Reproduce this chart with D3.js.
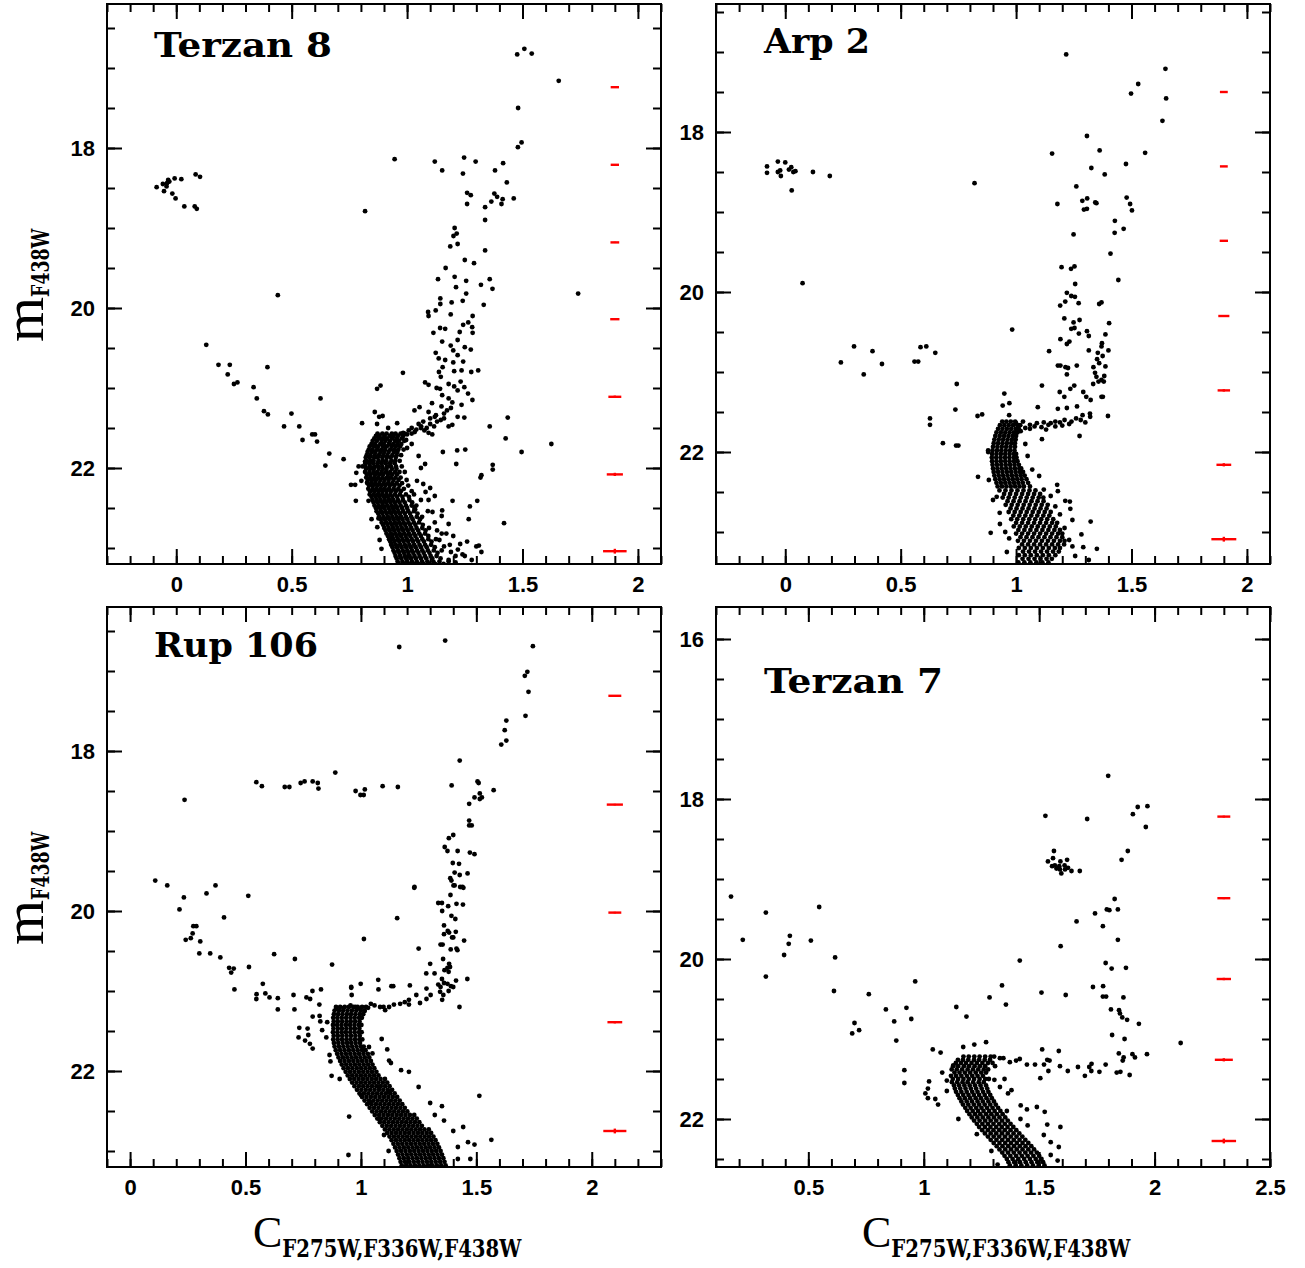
<!DOCTYPE html>
<html lang="en">
<head>
<meta charset="UTF-8">
<title>CMDs of four clusters</title>
<style>
body { margin: 0; background: #fff; }
</style>
</head>
<body>
<script src="https://cdnjs.cloudflare.com/ajax/libs/d3/7.8.5/d3.min.js"></script>
<script>
// ---- data: [C index, m_F438W] ----
var clusterNames = ["Terzan 8", "Arp 2", "Rup 106", "Terzan 7"];

var t8Stars = [[1.477,16.83],[1.508,16.76],[1.54,16.82],[1.657,17.16],[1.481,17.5],[1.496,17.93],[1.48,17.99],
[.946,18.14],[1.12,18.17],[1.152,18.28],[1.247,18.12],[1.297,18.17],[1.242,18.32],[1.416,18.19],[1.381,18.28],[1.432,18.43],[1.26,18.56],[1.276,18.59],[1.378,18.57],[1.39,18.61],[1.414,18.64],[1.462,18.63],[1.365,18.67],[1.26,18.7],[1.409,18.7],[1.338,18.74],[1.338,18.9],[.818,18.79],
[-.085,18.49],[-.058,18.45],[-.042,18.48],[-.035,18.4],[-.007,18.38],[.022,18.39],[-.053,18.54],[-.017,18.57],[-.003,18.63],[.035,18.73],[.08,18.73],[.089,18.76],[.084,18.33],[.103,18.36],[-.04,18.44],[-.03,18.42],
[1.206,19.0],[1.215,19.07],[1.201,19.1],[1.219,19.2],[1.187,19.23],[1.338,19.28],[1.25,19.4],[1.29,19.44],[1.167,19.5],[1.134,19.64],[1.206,19.61],[1.256,19.66],[1.32,19.71],[1.358,19.64],[1.212,19.74],[1.37,19.76],
[1.256,19.82],[1.144,19.88],[1.144,19.95],[1.193,19.93],[1.241,19.91],[1.332,19.96],[1.124,20.03],[1.091,20.05],[1.093,20.1],[1.189,20.08],[1.284,20.1],[1.265,20.18],[1.243,20.21],[1.143,20.25],[1.165,20.26],[1.114,20.31],[1.228,20.3],[1.282,20.24],[1.284,20.31],[1.152,20.42],[1.189,20.47],[1.219,20.4],[1.25,20.49],[1.276,20.52],[1.124,20.56],[1.2,20.53],[1.219,20.59],[1.137,20.63],[1.165,20.65],[1.2,20.68],[1.243,20.67],[1.154,20.74],[1.138,20.8],[1.204,20.79],[1.236,20.78],[1.278,20.8],[1.308,20.78],[1.146,20.86],[1.078,20.93],[1.093,20.96],[1.128,21.0],[1.143,21.01],[1.18,20.95],[1.204,20.98],[1.232,20.92],[1.248,20.99],[1.219,21.03],[1.264,21.07],[1.152,21.09],[1.18,21.13],[1.283,21.15],[1.196,21.18],[1.236,21.21],[1.108,21.19],[1.054,21.24],[1.032,21.28],[1.149,21.23],[1.173,21.28],[1.19,21.25],[1.093,21.3],[1.125,21.34],[1.219,21.36],[1.248,21.37],[1.146,21.4],[1.18,21.48],[1.196,21.46],[1.117,21.48],[1.061,21.48],[1.075,21.53],[1.093,21.56],[1.109,21.58],[1.033,21.55],[1.007,21.53],[.983,21.56],
[1.02,21.5],[1.05,21.45],[1.07,21.42],[1.1,21.38],[1.12,21.36],[1.16,21.32],[1.1,21.45],[1.13,21.42],[1.16,21.38],[1.04,21.52],[1.06,21.5],[1.0,21.58],[1.02,21.57],[1.085,21.5],
[.44,19.84],[1.741,19.82],[.13,20.46],[.183,20.71],[.232,20.71],[.223,20.83],[.25,20.95],[.265,20.93],[.395,20.74],[.335,20.99],[.349,21.13],[.38,21.29],[.397,21.33],[.499,21.32],[.467,21.48],[.533,21.48],[.547,21.65],[.589,21.58],[.601,21.58],[.61,21.67],[.625,21.13],[.663,21.82],[.646,21.97],[.725,21.89],[.805,21.44],[.86,21.3],[.879,21.36],[.894,21.35],[.87,21.01],[.885,20.97],[.982,20.81],[.918,21.5],[.957,21.44],[.87,21.45],[.996,21.65],
[1.358,21.48],[1.436,21.37],[1.427,21.63],[1.496,21.8],[1.625,21.7],[1.155,21.8],[1.217,21.78],[1.252,21.77],[1.078,21.95],[1.213,21.95],[1.371,21.96],[1.371,22.02],[1.322,22.09],[1.318,22.12],[1.304,22.41],[1.272,22.48],[1.267,22.64],[1.42,22.69],[1.197,22.41],[1.152,22.53],[1.311,22.97],[1.322,23.05],[1.043,22.16],[1.093,22.4],[1.035,22.52],
[.846,22.64],[.876,22.63],[.871,22.74],[.778,22.41],[.833,22.41],[.757,22.21],[.775,22.21],[.78,22.06],[.79,21.98],[.807,21.98],[.818,21.92],[.802,22.16],[.827,22.18],[.889,23.01],[.881,22.9],[.928,22.88],[.933,22.95],
[1.05,21.85],[1.02,21.7],[1.06,22.0],[1.1,22.25],[1.12,22.35],[1.15,22.6],[1.18,22.7],[1.2,22.85],[1.23,22.95],[1.25,23.1],[1.18,23.15],[1.14,22.9],[1.07,22.2],[1.0,21.75],[1.26,22.92],[1.24,23.08],[1.28,23.15],[1.3,22.98],
[1.11,22.55],[1.13,22.78],[1.16,22.98],[1.19,23.05],[1.21,23.18],[1.08,22.3],[1.17,22.82],[1.22,23.02]];

var t8Rows = [
[21.57,.872,.893,.911,.934,.95,.972,.99],[21.6,.865,.881,.902,.925,.941,.96,.983],[21.63,.858,.877,.895,.913,.936,.955,.977],
[21.66,.851,.869,.89,.907,.926,.948,.964,.988],[21.7,.846,.862,.884,.899,.921,.94,.958,.975],[21.73,.838,.857,.874,.896,.912,.933,.951,.97],
[21.77,.834,.85,.87,.888,.905,.927,.944,.962,.985],[21.8,.829,.847,.863,.884,.901,.92,.942,.958],[21.84,.825,.841,.86,.878,.897,.915,.936,.955,.974],
[21.87,.821,.838,.857,.873,.893,.912,.929,.951],[21.91,.823,.84,.855,.876,.894,.91,.932,.949,.968],[21.94,.819,.836,.853,.872,.889,.907,.926,.946],
[21.98,.82,.839,.858,.874,.892,.913,.93,.952,.977],[22.01,.822,.84,.856,.877,.895,.911,.934,.954],[22.05,.818,.837,.855,.871,.89,.909,.927,.948,.967,.99],
[22.08,.826,.842,.861,.879,.896,.917,.935,.956],[22.12,.823,.84,.858,.875,.894,.913,.93,.95,.972],[22.15,.83,.848,.865,.884,.902,.92,.941,.963,.998],
[22.19,.828,.845,.862,.88,.899,.918,.936,.955,.978],[22.22,.835,.852,.87,.888,.906,.925,.945,.967,1.005],[22.26,.832,.851,.868,.886,.903,.922,.942,.962,.986],
[22.29,.84,.858,.876,.893,.911,.93,.951,.973,1.02],[22.33,.838,.856,.874,.892,.91,.928,.948,.969,.995,1.03],[22.36,.846,.864,.881,.9,.917,.936,.957,.98,1.008],
[22.4,.85,.868,.885,.903,.922,.94,.96,.982,1.01,1.06],[22.43,.855,.873,.892,.909,.928,.947,.967,.99,1.022],[22.47,.859,.877,.895,.914,.933,.951,.972,.995,1.02,1.04],
[22.5,.865,.883,.901,.92,.938,.957,.978,1.0,1.032],[22.54,.868,.887,.906,.925,.943,.962,.983,1.005,1.03,1.09],[22.57,.875,.893,.912,.931,.95,.969,.99,1.013,1.045],
[22.61,.879,.898,.917,.936,.955,.974,.995,1.018,1.042,1.065],[22.64,.886,.904,.923,.942,.961,.98,1.001,1.024,1.056],[22.68,.89,.909,.928,.947,.966,.985,1.006,1.029,1.052,1.12],
[22.71,.896,.915,.934,.953,.972,.992,1.013,1.036,1.068],[22.75,.901,.92,.939,.958,.977,.997,1.018,1.041,1.066,1.095],[22.78,.907,.925,.944,.963,.983,1.003,1.024,1.048,1.08],
[22.82,.911,.93,.949,.968,.988,1.008,1.03,1.053,1.078,1.15],[22.85,.917,.936,.955,.974,.994,1.014,1.036,1.06,1.092],[22.89,.922,.941,.96,.98,.999,1.02,1.042,1.066,1.092,1.125],
[22.92,.927,.946,.966,.985,1.005,1.026,1.048,1.073,1.106],[22.96,.931,.951,.97,.99,1.01,1.031,1.054,1.078,1.104,1.185],[22.99,.937,.956,.976,.996,1.016,1.037,1.06,1.085,1.12],
[23.03,.941,.961,.981,1.001,1.021,1.043,1.066,1.09,1.116,1.15],[23.06,.946,.966,.986,1.006,1.027,1.049,1.072,1.097,1.132],[23.1,.95,.97,.99,1.011,1.032,1.054,1.077,1.102,1.128,1.21],
[23.13,.955,.975,.996,1.017,1.038,1.06,1.083,1.109,1.145],[23.17,.959,.98,1.0,1.021,1.042,1.065,1.088,1.114,1.14,1.18],[23.2,.964,.985,1.006,1.027,1.048,1.071,1.095,1.121,1.158]];

var arp2Stars = [[1.217,17.03],[1.647,17.21],[1.529,17.4],[1.498,17.52],[1.65,17.58],[1.634,17.86],[1.307,18.05],[1.362,18.23],[1.156,18.27],[1.559,18.26],[1.476,18.4],[1.326,18.45],[1.384,18.53],[.82,18.64],[1.261,18.68],[1.179,18.9],[1.287,18.86],[1.308,18.83],[1.294,18.97],[1.307,18.96],[1.343,18.88],[1.348,18.89],[1.479,18.82],[1.494,18.9],[1.502,18.98],[1.428,19.11],[1.466,19.21],[1.427,19.26],[1.249,19.28],[1.409,19.52],[1.197,19.69],[1.238,19.71],[1.253,19.68],[1.256,19.9],[1.443,19.85],[.075,19.89],
[-.079,18.43],[-.079,18.51],[-.032,18.37],[0,18.38],[-.032,18.5],[-.019,18.55],[.016,18.47],[.026,18.44],[.035,18.5],[.044,18.49],[.028,18.73],[.12,18.5],[.193,18.55],[-.022,18.48],
[1.22,20.01],[1.239,20.05],[1.255,20.06],[1.213,20.12],[1.191,20.17],[1.271,20.14],[1.37,20.13],[1.36,20.15],[1.209,20.33],[1.275,20.35],[1.249,20.38],[1.403,20.39],[.983,20.47],[1.239,20.46],[1.253,20.45],[1.307,20.49],[1.272,20.52],[1.315,20.55],[1.387,20.53],[1.192,20.59],[1.22,20.65],[1.231,20.62],[1.372,20.64],[1.37,20.68],[1.143,20.74],[1.315,20.73],[1.354,20.76],[1.4,20.73],[1.351,20.84],[1.375,20.8],[1.36,20.89],[1.181,20.92],[1.192,20.92],[1.214,20.94],[1.225,20.95],[1.263,20.92],[1.335,20.94],[1.387,20.93],[1.22,21.03],[1.342,21.01],[1.348,21.06],[1.382,21.05],[1.37,21.1],[1.357,21.12],[1.38,21.12],[1.112,21.17],[1.235,21.21],[1.252,21.17],[1.334,21.15],[1.189,21.25],[1.209,21.31],[1.291,21.25],[1.304,21.31],[1.323,21.35],[1.37,21.31],[1.376,21.31],[.949,21.27],[.942,21.42],[.971,21.39],[1.094,21.44],[1.181,21.46],[1.22,21.45],[1.264,21.43],[.97,21.54],[1.288,21.54],[1.32,21.52],[1.321,21.56],[1.398,21.55],
[.737,21.47],[.743,21.15],[.833,21.55],[.853,21.53],[.627,21.58],[.627,21.66],[.683,21.89],[.74,21.92],[.75,21.92],[.298,20.68],[.378,20.74],[.241,20.88],[.419,20.9],[.34,21.03],[.56,20.87],[.576,20.87],[.586,20.69],[.611,20.68],[.65,20.76],
[1.112,21.84],[1.275,21.8],[.879,21.98],[.879,22.0],[.835,22.31],[.882,22.35],[.916,22.56],[.929,22.76],[.89,23.01],[.953,23.0],[.97,23.08],[1.178,22.41],[1.181,22.49],[1.213,22.61],[1.233,22.62],[1.235,22.71],[1.244,22.85],[1.323,22.87],[1.283,23.03],[1.291,23.19],[1.35,23.21],[1.244,23.18],[1.256,23.3],[1.315,23.35],
[1.0,21.64],[1.03,21.62],[1.06,21.66],[1.09,21.64],[1.12,21.63],[1.15,21.64],[1.17,21.62],[1.19,21.63],[1.21,21.6],[1.24,21.62],[1.26,21.58],[1.04,21.7],[1.08,21.68],[1.11,21.69],[1.14,21.66],[1.02,21.74],[1.06,21.71],[1.2,21.67],[1.23,21.65],[1.17,21.68],[1.13,21.72],[1.28,21.6],[1.3,21.63],
[1.04,21.9],[1.05,22.05],[1.07,22.22],[1.1,22.3],[1.12,22.47],[1.15,22.55],[1.17,22.68],[1.19,22.78],[1.21,22.95],[1.23,23.1],[.9,22.6],[.93,22.9],[.96,23.25]];

var arp2Rows = [
[21.62,.94,.958,.977,.996],[21.665,.93,.949,.968,.987,1.006,1.018],[21.71,.922,.941,.96,.979,.998,1.012],[21.755,.915,.934,.953,.972,.991,1.006],
[21.8,.91,.929,.948,.967,.986,1.0],[21.845,.906,.925,.944,.963,.982,.998],[21.89,.903,.922,.941,.96,.979,.995],[21.935,.9,.919,.938,.957,.976,.995],
[21.98,.898,.917,.936,.955,.974,.993],[22.025,.896,.915,.934,.953,.972,.991,1.0],[22.07,.895,.914,.933,.952,.971,.99,1.002],[22.115,.896,.915,.934,.953,.972,.991,1.006],
[22.16,.898,.917,.936,.955,.974,.993,1.012],[22.205,.9,.919,.938,.957,.976,.995,1.014,1.022],[22.25,.903,.922,.941,.96,.979,.998,1.017,1.03],[22.295,.906,.925,.944,.963,.982,1.001,1.02,1.037],
[22.34,.91,.929,.948,.967,.986,1.005,1.024,1.045],[22.385,.915,.934,.953,.972,.991,1.01,1.029,1.052],[22.43,.92,.939,.958,.977,.996,1.015,1.034,1.06],
[22.48,.928,.954,.98,1.006,1.032,1.058,1.084],[22.525,.948,.974,1.0,1.026,1.052,1.078,1.104],[22.57,.942,.968,.994,1.02,1.046,1.072,1.098,1.118],
[22.615,.963,.989,1.015,1.041,1.067,1.093,1.119],[22.66,.955,.981,1.007,1.033,1.059,1.085,1.111,1.137],[22.705,.976,1.002,1.028,1.054,1.08,1.106,1.132],
[22.75,.968,.994,1.02,1.046,1.072,1.098,1.124,1.15],[22.795,.988,1.014,1.04,1.066,1.092,1.118,1.144],[22.84,.979,1.005,1.031,1.057,1.083,1.109,1.135,1.161],
[22.885,1.0,1.026,1.052,1.078,1.104,1.13,1.156,1.178],[22.93,.99,1.016,1.042,1.068,1.094,1.12,1.146,1.172],[22.975,1.01,1.036,1.062,1.088,1.114,1.14,1.166,1.19],
[23.02,1.0,1.026,1.052,1.078,1.104,1.13,1.156,1.182,1.2],[23.065,1.019,1.045,1.071,1.097,1.123,1.149,1.175,1.2],[23.11,1.008,1.034,1.06,1.086,1.112,1.138,1.164,1.19,1.21],
[23.155,1.026,1.052,1.078,1.104,1.13,1.156,1.182,1.208],[23.2,1.012,1.038,1.064,1.09,1.116,1.142,1.168,1.19],[23.245,1.03,1.056,1.082,1.108,1.134,1.16,1.185],
[23.29,1.012,1.038,1.064,1.09,1.116,1.142,1.17],[23.335,1.028,1.054,1.08,1.106,1.132,1.155],[23.38,1.01,1.036,1.062,1.088,1.114,1.14]];

var rup106Stars = [[1.166,16.7],[1.365,16.62],[1.745,16.69],[1.71,17.06],[1.721,17.01],[1.726,17.26],[1.713,17.56],[1.63,17.62],[1.623,17.74],[1.63,17.87],[1.608,17.92],[1.428,18.12],[1.393,18.43],[1.505,18.38],[1.51,18.4],[1.575,18.49],[1.515,18.53],[1.524,18.58],[1.515,18.6],[1.492,18.58],[1.469,18.66],[1.469,18.87],[1.469,18.93],[1.48,18.93],[1.381,19.09],[1.4,19.05],[1.363,19.2],[1.375,19.25],[1.419,19.25],[1.472,19.27],[1.492,19.29],[1.398,19.4],[1.425,19.41],[1.406,19.52],[1.428,19.55],[1.462,19.53],[1.387,19.59],[1.401,19.68],[1.43,19.7],[1.44,19.7],[1.232,19.7],[.236,18.61],
[.547,18.39],[.571,18.44],[.67,18.45],[.69,18.45],[.739,18.4],[.756,18.38],[.791,18.38],[.813,18.4],[.816,18.47],[.889,18.27],[.977,18.5],[.998,18.55],[1.012,18.55],[1.017,18.48],[1.094,18.44],[1.16,18.45],
[.109,19.62],[.161,19.68],[.37,19.68],[.233,19.83],[.331,19.78],[.512,19.81],[.214,19.98],[.407,20.08],[.274,20.19],[.287,20.19],[.271,20.28],[.241,20.36],[.263,20.34],[.304,20.38],[.3,20.53],[.347,20.53],[.391,20.58],[.429,20.71],[.449,20.72],[.438,20.77],[.515,20.7],[.624,20.54],[.714,20.6],[.875,20.67],[.452,20.98],[.575,20.91],[.548,21.04],[.547,21.1],[.586,21.03],[.604,21.08],[.64,21.09],[.64,21.23],[.708,21.05],[.712,21.23],[.764,21.08],[.78,21.1],[.79,21.0],[.827,20.98],[.82,21.17],[.791,21.32],[.821,21.31],[.824,21.38],[.854,21.39],[.733,21.46],[.769,21.47],[.772,21.55],[.73,21.58],[.758,21.62],[.779,21.66],[.791,21.72],[.832,21.49],[.85,21.58],[.864,21.8],[.868,21.88],[.873,22.06],[.908,22.1],
[.958,20.95],[.958,20.96],[.96,21.05],[.999,20.91],[1.013,20.35],[1.075,20.86],[1.076,20.98],[1.132,20.94],[1.14,20.94],[1.157,20.09],[1.231,19.71],[1.212,20.93],[1.25,20.47],[1.284,20.97],[1.3,20.66],[1.283,20.78],[1.319,20.78],
[1.335,19.9],[1.351,19.9],[1.378,19.94],[1.388,19.8],[1.392,19.62],[1.406,19.68],[1.444,19.71],[1.414,19.91],[1.442,19.92],[1.352,20.0],[1.392,20.06],[1.409,20.1],[1.36,20.18],[1.376,20.25],[1.382,20.27],[1.395,20.33],[1.411,20.26],[1.4,20.33],[1.36,20.29],[1.354,20.42],[1.345,20.42],[1.447,20.37],[1.389,20.48],[1.414,20.47],[1.418,20.49],[1.356,20.6],[1.382,20.66],[1.375,20.71],[1.386,20.7],[1.362,20.74],[1.38,20.76],[1.412,20.87],[1.461,20.85],[1.351,20.85],[1.335,20.92],[1.345,20.95],[1.36,20.9],[1.375,20.91],[1.39,20.94],[1.343,21.01],[1.357,21.05],[1.352,21.11],[1.38,21.0],[1.4,20.95],[1.427,21.2],
[1.302,21.05],[1.284,21.1],[1.256,21.15],[1.24,21.05],[1.208,21.11],[1.208,21.17],[1.19,21.14],[1.17,21.16],[1.143,21.17],[1.122,21.2],[1.098,21.2],[1.105,21.24],[1.083,21.2],[1.059,21.18],[1.043,21.16],[1.031,21.21],[1.016,21.25],[.996,21.22],[.976,21.2],[.955,21.18],[.925,21.21],[.894,21.22],
[1.513,22.31],[1.565,22.86],[1.492,22.92],[1.464,22.89],[1.443,22.7],[1.351,22.44],[1.36,22.62],[1.474,23.1],[.949,22.57],[.946,23.05],[1.208,22.01],[1.174,21.99],[1.114,21.73],[1.09,21.6],[1.035,21.7],[1.122,21.87],[1.13,21.9],[1.05,21.78],[1.08,22.2],[1.12,22.25],[1.25,22.2],[1.3,22.4],[1.32,22.55],[1.4,22.75],[1.42,22.95],[1.42,23.1],[1.08,22.6],[1.04,22.4],[1.0,22.3],[1.1,22.8],[1.12,23.0]];

var rup106Rows = [
[21.2,.892,.91,.93,.948,.967,.986,1.005,1.022],[21.245,.886,.905,.923,.942,.961,.98,.999,1.015],[21.29,.883,.901,.92,.939,.957,.976,.995,1.01],
[21.335,.88,.898,.917,.936,.955,.973,.992,1.004],[21.38,.882,.9,.919,.938,.956,.975,.994],[21.425,.879,.897,.916,.935,.953,.972,.991,1.002],
[21.47,.881,.9,.918,.937,.956,.974,.993],[21.515,.879,.898,.917,.935,.954,.973,.992,1.003],[21.56,.882,.9,.919,.938,.957,.976,.995],
[21.605,.88,.899,.918,.937,.955,.974,.993,1.006],[21.65,.883,.902,.921,.94,.958,.977,.996],[21.695,.886,.905,.924,.943,.962,.981,1.0,1.012],
[21.74,.891,.91,.929,.948,.967,.986,1.005,1.02],[21.785,.897,.916,.935,.954,.973,.992,1.011,1.03],[21.83,.903,.922,.941,.96,.979,.998,1.017,1.036],
[21.875,.91,.929,.948,.967,.986,1.005,1.024,1.043],[21.92,.917,.936,.955,.974,.993,1.012,1.031,1.05],[21.965,.925,.944,.963,.982,1.001,1.02,1.039,1.058],
[22.01,.934,.953,.972,.991,1.01,1.029,1.048,1.067],[22.055,.943,.962,.981,1.0,1.019,1.038,1.057,1.076],[22.1,.952,.971,.99,1.009,1.028,1.047,1.066,1.085,1.104],
[22.145,.962,.981,1.0,1.019,1.038,1.057,1.076,1.095,1.114],[22.19,.972,.991,1.01,1.029,1.048,1.067,1.086,1.105,1.124],[22.235,.983,1.002,1.021,1.04,1.059,1.078,1.097,1.116,1.135],
[22.28,.994,1.013,1.032,1.051,1.07,1.089,1.108,1.127,1.146],[22.325,1.005,1.024,1.043,1.062,1.081,1.1,1.119,1.138,1.157],[22.37,1.016,1.035,1.054,1.073,1.092,1.111,1.13,1.149,1.168],
[22.415,1.027,1.046,1.065,1.084,1.103,1.122,1.141,1.16,1.179],[22.46,1.038,1.057,1.076,1.095,1.114,1.133,1.152,1.171,1.19],[22.505,1.049,1.068,1.087,1.106,1.125,1.144,1.163,1.182,1.201],
[22.55,1.06,1.079,1.098,1.117,1.136,1.155,1.174,1.193,1.212,1.231],[22.595,1.071,1.09,1.109,1.128,1.147,1.166,1.185,1.204,1.223,1.242],[22.64,1.082,1.101,1.12,1.139,1.158,1.177,1.196,1.215,1.234,1.253],
[22.685,1.093,1.112,1.131,1.15,1.169,1.188,1.207,1.226,1.245,1.264],[22.73,1.104,1.123,1.142,1.161,1.18,1.199,1.218,1.237,1.256,1.275,1.294],[22.775,1.114,1.133,1.152,1.171,1.19,1.209,1.228,1.247,1.266,1.285,1.304],
[22.82,1.124,1.143,1.162,1.181,1.2,1.219,1.238,1.257,1.276,1.295,1.314],[22.865,1.133,1.152,1.171,1.19,1.209,1.228,1.247,1.266,1.285,1.304,1.323],[22.91,1.141,1.16,1.179,1.198,1.217,1.236,1.255,1.274,1.293,1.312,1.331],
[22.955,1.148,1.167,1.186,1.205,1.224,1.243,1.262,1.281,1.3,1.319,1.338],[23.0,1.155,1.174,1.193,1.212,1.231,1.25,1.269,1.288,1.307,1.326,1.345],[23.045,1.161,1.18,1.199,1.218,1.237,1.256,1.275,1.294,1.313,1.332,1.351],
[23.09,1.167,1.186,1.205,1.224,1.243,1.262,1.281,1.3,1.319,1.338,1.357],[23.135,1.172,1.191,1.21,1.229,1.248,1.267,1.286,1.305,1.324,1.343,1.362],[23.18,1.177,1.196,1.215,1.234,1.253,1.272,1.291,1.31,1.329,1.348,1.367],
[23.22,1.182,1.201,1.22,1.239,1.258,1.277,1.296,1.315,1.334,1.353]];

var ter7Stars = [[1.799,17.71],[1.527,18.21],[1.708,18.25],[1.906,18.19],[1.927,18.1],[1.969,18.09],[1.962,18.35],[1.884,18.65],[1.857,18.76],
[1.564,18.65],[1.56,18.74],[1.538,18.78],[1.592,18.78],[1.621,18.76],[1.568,18.83],[1.587,18.84],[1.61,18.83],[1.625,18.86],[1.596,18.93],[1.64,18.9],[1.676,18.9],[1.575,18.87],[1.556,18.84],[1.612,18.88],[1.59,18.88],
[.165,19.22],[.216,19.76],[.316,19.42],[.316,20.22],[.395,19.95],[.415,19.81],[.42,19.71],[.511,19.77],[.547,19.35],[.616,19.98],[.611,20.4],[.762,20.44],[.963,20.28],[.836,20.63],[.925,20.61],[.872,20.78],[.946,20.75],[.7,20.8],[.69,20.93],[.72,20.89],[.881,21.02],[.916,21.39],[.916,21.55],[1.023,21.53],[1.018,21.62],[1.007,21.68],[1.018,21.74],[1.062,21.82],[1.039,21.13],[1.073,21.17],
[1.141,20.6],[1.185,20.72],[1.285,20.48],[1.339,20.33],[1.356,20.57],[1.416,20.02],[1.51,20.42],[1.615,20.45],[1.593,19.84],[1.662,19.53],[1.742,19.43],[1.776,19.59],[1.793,19.38],[1.804,19.39],[1.827,19.25],[1.841,19.38],[1.841,19.76],[1.788,20.05],[1.814,20.12],[1.876,20.11],[1.733,20.35],[1.777,20.34],[1.776,20.47],[1.79,20.47],[1.865,20.48],[1.811,20.63],[1.846,20.64],[1.85,20.68],[1.86,20.73],[1.881,20.76],[1.932,20.81],[1.816,20.95],[1.87,21.0],[2.113,21.05],
[1.845,21.18],[1.904,21.19],[1.915,21.23],[1.967,21.19],[1.866,21.23],[1.862,21.27],[1.788,21.32],[1.836,21.42],[1.852,21.41],[1.892,21.45],[1.727,21.31],[1.717,21.35],[1.726,21.4],[1.761,21.41],[1.698,21.46],[1.668,21.35],[1.624,21.4],[1.59,21.34],[1.585,21.15],[1.513,21.13],[1.505,21.49],[1.54,21.4],[1.521,21.32],[1.535,21.26],[1.545,21.27],[1.482,21.32],[1.447,21.32],[1.416,21.25],[1.4,21.27],[1.373,21.29],[1.345,21.24],[1.33,21.24],[1.309,21.34],[1.306,21.51],[1.27,21.04],[1.219,21.07],[1.171,21.1],[1.128,21.33],[1.1,21.52],
[1.49,21.85],[1.524,21.91],[1.447,21.88],[1.535,22.07],[1.592,22.1],[1.585,22.35],[1.55,22.29],[1.38,21.64],[1.365,21.68],[1.419,22.0],[1.15,22.0],[1.23,22.19],[1.293,22.4],[1.32,22.57],[1.58,22.52],[1.1,21.65],[1.08,21.42],[1.36,21.9],[1.45,22.08],[1.52,22.2],[1.55,22.45],[1.33,21.6],[1.35,21.5],[1.42,21.83],[1.05,21.75]];

var ter7Rows = [
[21.22,1.172,1.195,1.219,1.242,1.266,1.29,1.305],[21.26,1.148,1.17,1.193,1.218,1.24,1.264,1.287],[21.3,1.139,1.161,1.183,1.207,1.23,1.254,1.278,1.298],
[21.34,1.127,1.149,1.174,1.196,1.22,1.243,1.266],[21.38,1.121,1.143,1.166,1.19,1.213,1.236,1.26,1.279],[21.42,1.133,1.155,1.178,1.201,1.225,1.249,1.27],
[21.46,1.118,1.14,1.163,1.187,1.21,1.233,1.256],[21.5,1.126,1.149,1.172,1.195,1.218,1.242,1.266,1.282],[21.54,1.122,1.145,1.168,1.19,1.214,1.238,1.26],
[21.58,1.131,1.153,1.176,1.199,1.222,1.246,1.27],[21.62,1.135,1.158,1.181,1.204,1.227,1.251,1.275],[21.66,1.14,1.163,1.186,1.21,1.233,1.257,1.28],
[21.7,1.148,1.171,1.194,1.217,1.24,1.264,1.288],[21.74,1.155,1.178,1.201,1.225,1.248,1.272,1.295],[21.78,1.163,1.186,1.209,1.233,1.256,1.28,1.304],
[21.82,1.17,1.193,1.217,1.24,1.264,1.288,1.312],[21.86,1.18,1.203,1.227,1.25,1.274,1.298,1.322],[21.9,1.188,1.212,1.235,1.259,1.283,1.307,1.332],
[21.94,1.198,1.222,1.245,1.27,1.293,1.317,1.342],[21.98,1.208,1.232,1.256,1.28,1.304,1.328,1.353],[22.02,1.218,1.242,1.266,1.29,1.314,1.339,1.364],
[22.06,1.23,1.254,1.278,1.302,1.327,1.351,1.376],[22.1,1.24,1.265,1.289,1.314,1.338,1.363,1.388],[22.14,1.253,1.278,1.302,1.327,1.351,1.376,1.401],
[22.18,1.265,1.29,1.314,1.339,1.364,1.389,1.414],[22.22,1.278,1.303,1.327,1.352,1.377,1.402,1.427],[22.26,1.29,1.315,1.34,1.365,1.39,1.415,1.44],
[22.3,1.303,1.328,1.353,1.378,1.403,1.428,1.453],[22.34,1.316,1.341,1.366,1.391,1.416,1.441,1.466],[22.38,1.328,1.353,1.378,1.403,1.428,1.453,1.478],
[22.42,1.34,1.365,1.39,1.415,1.44,1.465,1.49],[22.46,1.35,1.375,1.4,1.425,1.45,1.475,1.5],[22.5,1.36,1.385,1.41,1.435,1.46,1.485,1.51],
[22.54,1.367,1.392,1.417,1.442,1.467,1.492,1.517],[22.58,1.373,1.398,1.423,1.448,1.473,1.498,1.523]];

// typical errors (colour position, magnitudes, half-widths in colour and magnitude)
var errColor = [1.9, 1.9, 2.1, 2.3];
var t8ErrMag = [17.24,18.21,19.18,20.14,21.11,22.08,23.04], t8ErrX = [.018,.018,.019,.02,.028,.035,.051], t8ErrY = [.006,.006,.008,.01,.015,.02,.03];
var arp2ErrMag = [17.5,18.43,19.36,20.3,21.23,22.16,23.09], arp2ErrX = [.017,.017,.018,.024,.027,.032,.054], arp2ErrY = [.006,.006,.008,.012,.015,.02,.03];
var rup106ErrMag = [17.31,18.67,20.02,21.39,22.75], rup106ErrX = [.028,.035,.028,.032,.05], rup106ErrY = [.008,.01,.01,.015,.03];
var ter7ErrMag = [18.22,19.24,20.25,21.26,22.275], ter7ErrX = [.028,.028,.031,.039,.053], ter7ErrY = [.012,.012,.015,.02,.03];

// axes
var xTicksA = [0, 0.5, 1, 1.5, 2], xTicksB = [0.5, 1, 1.5, 2, 2.5];
var yTicksA = [18, 20, 22], yTicksB = [16, 18, 20, 22];

// ---- layout ----
var W = 1305, H = 1268, pw = 554, ph = 560;
var svg = d3.select("body").append("svg").attr("width", W).attr("height", H)
  .style("background", "#fff");

function rowsToStars(rows) {
  var out = [];
  rows.forEach(r => r.slice(1).forEach(c => out.push([c, r[0]])));
  return out;
}

var panels = [
  { name: clusterNames[0], left: 107, top: 4, xd: [-0.3, 2.1], yd: [16.2, 23.2], xt: xTicksA, yt: yTicksA,
    stars: t8Stars.concat(rowsToStars(t8Rows)), ec: errColor[0], em: t8ErrMag, ex: t8ErrX, ey: t8ErrY,
    tx: 47, ty: 53, tw: 178, xlab: false, ylab: true },
  { name: clusterNames[1], left: 716, top: 4, xd: [-0.3, 2.1], yd: [16.4, 23.4], xt: xTicksA, yt: yTicksA,
    stars: arp2Stars.concat(rowsToStars(arp2Rows)), ec: errColor[1], em: arp2ErrMag, ex: arp2ErrX, ey: arp2ErrY,
    tx: 48, ty: 49, tw: 106, xlab: false, ylab: false },
  { name: clusterNames[2], left: 107, top: 607, xd: [-0.1, 2.3], yd: [16.2, 23.2], xt: xTicksA, yt: yTicksA,
    stars: rup106Stars.concat(rowsToStars(rup106Rows)), ec: errColor[2], em: rup106ErrMag, ex: rup106ErrX, ey: rup106ErrY,
    tx: 47, ty: 50, tw: 164, xlab: true, ylab: true },
  { name: clusterNames[3], left: 716, top: 607, xd: [0.1, 2.5], yd: [15.6, 22.6], xt: xTicksB, yt: yTicksB,
    stars: ter7Stars.concat(rowsToStars(ter7Rows)), ec: errColor[3], em: ter7ErrMag, ex: ter7ErrX, ey: ter7ErrY,
    tx: 48, ty: 86, tw: 179, xlab: true, ylab: false }
];

panels.forEach(drawPanel);

function addAxis(g, axis, tr, vals, size, withLabels) {
  var a = g.append("g").attr("transform", tr)
    .call(axis.tickValues(vals).tickSize(-size).tickPadding(12)
      .tickFormat(withLabels ? d3.format("") : ""));
  a.select(".domain").remove();
  a.selectAll("line").attr("stroke", "#000").attr("stroke-width", 2);
  a.attr("font-family", "'Liberation Sans', Arial, sans-serif")
    .attr("font-size", 22).attr("font-weight", "bold");
  a.selectAll("text").attr("fill", "#000");
  return a;
}

function drawPanel(p, i) {
  var x = d3.scaleLinear().domain(p.xd).range([0, pw]);
  var y = d3.scaleLinear().domain(p.yd).range([0, ph]);
  var g = svg.append("g").attr("transform", "translate(" + p.left + "," + p.top + ")");

  g.append("clipPath").attr("id", "clip" + i)
    .append("rect").attr("width", pw).attr("height", ph);

  g.append("g").attr("clip-path", "url(#clip" + i + ")")
    .selectAll("circle").data(p.stars).enter().append("circle")
    .attr("cx", d => x(d[0])).attr("cy", d => y(d[1]))
    .attr("r", 2.4).attr("fill", "#000");

  // error bars
  var eb = g.append("g").attr("stroke", "#ff0000").attr("stroke-width", 2.4);
  p.em.forEach(function (m, k) {
    eb.append("line").attr("x1", x(p.ec - p.ex[k])).attr("x2", x(p.ec + p.ex[k]))
      .attr("y1", y(m)).attr("y2", y(m));
    eb.append("line").attr("x1", x(p.ec)).attr("x2", x(p.ec))
      .attr("y1", y(m - p.ey[k])).attr("y2", y(m + p.ey[k]));
  });

  // ticks on all four sides, pointing inward
  var xMinor = x.ticks(24), yMinor = y.ticks(14);
  addAxis(g, d3.axisBottom(x), "translate(0," + ph + ")", xMinor, 8, false);
  addAxis(g, d3.axisBottom(x), "translate(0," + ph + ")", p.xt, 15, true);
  addAxis(g, d3.axisTop(x), "translate(0,0)", xMinor, 8, false);
  addAxis(g, d3.axisTop(x), "translate(0,0)", p.xt, 15, false);
  addAxis(g, d3.axisLeft(y), "translate(0,0)", yMinor, 8, false);
  addAxis(g, d3.axisLeft(y), "translate(0,0)", p.yt, 15, true);
  addAxis(g, d3.axisRight(y), "translate(" + pw + ",0)", yMinor, 8, false);
  addAxis(g, d3.axisRight(y), "translate(" + pw + ",0)", p.yt, 15, false);

  g.append("rect").attr("width", pw).attr("height", ph)
    .attr("fill", "none").attr("stroke", "#000").attr("stroke-width", 2);

  g.append("text").attr("x", p.tx).attr("y", p.ty)
    .attr("font-family", "'DejaVu Serif', serif").attr("font-weight", "bold")
    .attr("font-size", 34).attr("textLength", p.tw).attr("lengthAdjust", "spacingAndGlyphs")
    .text(p.name);

  if (p.xlab) {
    var t = svg.append("text").attr("x", p.left + 146).attr("y", 1247);
    t.append("tspan").attr("font-family", "'Liberation Serif', serif").attr("font-size", 44).text("C");
    t.append("tspan").attr("font-family", "'DejaVu Serif', serif").attr("font-weight", "bold")
      .attr("font-size", 24).attr("dy", 10).attr("textLength", 239)
      .attr("lengthAdjust", "spacingAndGlyphs").text("F275W,F336W,F438W");
  }
  if (p.ylab) {
    var yt = svg.append("text")
      .attr("transform", "translate(43," + (p.top + 338) + ") rotate(-90)");
    yt.append("tspan").attr("font-family", "'Liberation Serif', serif").attr("font-size", 58).text("m");
    yt.append("tspan").attr("font-family", "'DejaVu Serif', serif").attr("font-weight", "bold")
      .attr("font-size", 24).attr("dy", 6).attr("textLength", 68)
      .attr("lengthAdjust", "spacingAndGlyphs").text("F438W");
  }
}
</script>
</body>
</html>
